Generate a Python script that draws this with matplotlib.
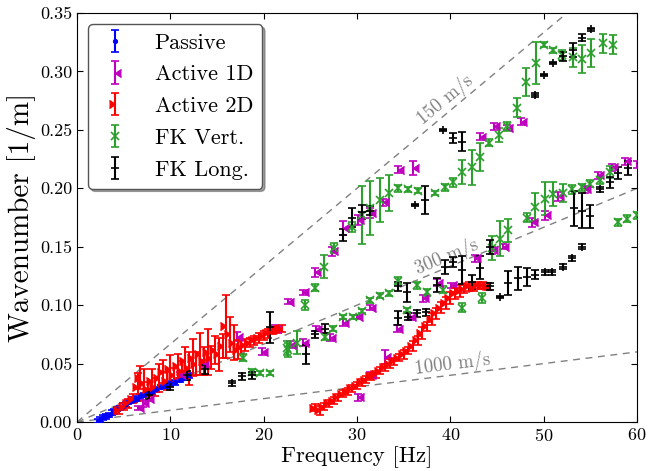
import numpy as np
import matplotlib
matplotlib.use("Agg")
import matplotlib.pyplot as plt

plt.rcParams['font.family'] = 'serif'
plt.rcParams['font.serif'] = ['cmr10', 'DejaVu Serif']
plt.rcParams['mathtext.fontset'] = 'cm'
plt.rcParams['axes.formatter.use_mathtext'] = True

# Passive
pas_f = [2.2, 2.5, 2.8, 3.1, 3.4, 3.7, 4.0, 4.3, 4.6, 4.9, 5.2, 5.5, 5.8, 6.1, 6.4,
         6.8, 7.2, 7.6, 8.0, 8.5, 9.0, 9.5, 10.0, 10.5, 11.0, 11.5, 12.0]
pas_k = [0.001, 0.002, 0.004, 0.005, 0.006, 0.008, 0.009, 0.011, 0.012, 0.014, 0.015,
         0.017, 0.018, 0.019, 0.020, 0.022, 0.023, 0.025, 0.026, 0.028, 0.030, 0.031,
         0.033, 0.034, 0.036, 0.038, 0.040]
pas_e = [0.002] * len(pas_f)

# Active 1D
a1_f = [6.5, 7.1, 7.6, 11.0, 13.5, 17.1, 19.8, 21.2, 22.6, 22.8, 24.2, 24.2, 25.5, 25.6,
        27.1, 27.3, 28.5, 28.5, 30.0, 30.1, 30.1, 31.4, 31.4, 31.4, 32.8, 33.0, 34.3,
        34.4, 35.7, 36.0, 37.1, 38.6, 40.1, 42.6, 43.2, 44.5, 44.7, 45.6, 46.1, 47.6,
        48.7, 50.1, 51.5, 54.4, 55.8, 57.3, 58.7, 60.0]
a1_k = [0.012, 0.016, 0.020, 0.040, 0.050, 0.073, 0.060, 0.080, 0.103, 0.066, 0.111,
        0.068, 0.128, 0.080, 0.072, 0.146, 0.166, 0.085, 0.090, 0.173, 0.021, 0.179,
        0.098, 0.040, 0.188, 0.056, 0.080, 0.216, 0.090, 0.217, 0.106, 0.119, 0.117,
        0.140, 0.244, 0.147, 0.253, 0.150, 0.252, 0.257, 0.171, 0.177, 0.193, 0.199,
        0.211, 0.218, 0.223, 0.220]
a1_e = [0.002, 0.003, 0.002, 0.003, 0.003, 0.004, 0.003, 0.003, 0.002, 0.003, 0.002,
        0.003, 0.004, 0.002, 0.003, 0.004, 0.006, 0.003, 0.002, 0.004, 0.003, 0.004,
        0.002, 0.003, 0.003, 0.006, 0.003, 0.003, 0.003, 0.006, 0.003, 0.003, 0.002,
        0.003, 0.003, 0.003, 0.003, 0.002, 0.002, 0.003, 0.004, 0.004, 0.004, 0.003,
        0.003, 0.003, 0.003, 0.003]

# Active 2D
a2_f = [4.5, 5.0, 5.5, 6.0, 6.5, 6.8, 7.2, 7.6, 8.0, 8.4, 8.8, 9.2, 9.6, 10.0, 10.4,
        10.8, 11.2, 11.6, 12.0, 12.4, 12.8, 13.2, 13.6, 14.0, 14.4, 14.8, 15.2, 15.6,
        16.0, 16.4, 16.8, 17.2, 17.6, 18.0, 18.5, 19.0, 19.5, 20.0, 20.5, 21.0, 21.5, 22.0,
        25.5, 26.0, 26.5, 27.0, 27.5, 28.0, 28.5, 29.0, 29.5, 30.0, 30.5, 31.0, 31.5,
        32.0, 32.5, 33.0, 33.5, 34.0, 34.5, 35.0, 35.5, 36.0, 36.5, 37.0, 37.5, 38.0,
        38.5, 39.0, 39.5, 40.0, 40.5, 41.0, 41.5, 42.0, 42.5, 43.0, 43.5, 44.0]
a2_k = [0.010, 0.013, 0.016, 0.020, 0.030, 0.038, 0.033, 0.028, 0.035, 0.030, 0.038,
        0.043, 0.035, 0.045, 0.040, 0.048, 0.044, 0.052, 0.046, 0.055, 0.050, 0.058,
        0.052, 0.060, 0.055, 0.062, 0.058, 0.065, 0.082, 0.075, 0.068, 0.062, 0.064,
        0.066, 0.068, 0.070, 0.072, 0.074, 0.076, 0.078, 0.079, 0.080,
        0.012, 0.010, 0.013, 0.016, 0.018, 0.021, 0.024, 0.026, 0.029, 0.031, 0.034,
        0.036, 0.039, 0.041, 0.044, 0.047, 0.050, 0.052, 0.055, 0.058, 0.061, 0.065,
        0.070, 0.076, 0.082, 0.088, 0.093, 0.098, 0.102, 0.106, 0.110, 0.112, 0.114,
        0.116, 0.115, 0.117, 0.117, 0.116]
a2_e = [0.003, 0.003, 0.004, 0.004, 0.012, 0.010, 0.012, 0.006, 0.010, 0.008, 0.012,
        0.010, 0.008, 0.012, 0.006, 0.010, 0.008, 0.012, 0.014, 0.016, 0.010, 0.018,
        0.012, 0.020, 0.010, 0.012, 0.014, 0.010, 0.027, 0.015, 0.015, 0.008, 0.006,
        0.005, 0.004, 0.004, 0.004, 0.004, 0.004, 0.003, 0.003, 0.003,
        0.003, 0.004, 0.003, 0.003, 0.003, 0.003, 0.003, 0.003, 0.003, 0.003, 0.003,
        0.003, 0.003, 0.003, 0.003, 0.003, 0.004, 0.003, 0.003, 0.004, 0.003, 0.004,
        0.004, 0.005, 0.004, 0.005, 0.005, 0.005, 0.005, 0.005, 0.005, 0.005, 0.004,
        0.004, 0.003, 0.003, 0.003, 0.003]

# FK Vert.
fv_f = [17.8, 18.7, 19.6, 20.7, 22.5, 22.6, 23.6, 24.4, 25.5, 26.5, 27.5, 29.5, 30.5,
        31.4, 32.5, 33.4, 34.4, 26.6, 27.4, 28.5, 29.6, 30.5, 31.4, 32.5, 33.4, 34.4,
        35.5, 36.5, 38.4, 39.4, 40.3, 41.3, 42.3, 43.2, 44.1, 45.2, 46.1, 47.1, 48.1,
        49.2, 50.0, 51.0, 52.0, 53.1, 54.1, 55.1, 56.4, 57.4,
        35.4, 36.4, 37.5, 39.2, 41.3, 43.4, 44.5, 45.3, 46.2, 48.2, 49.1, 50.1, 51.0,
        52.1, 53.0, 54.1, 55.0, 56.0, 57.1, 58.0, 58.9, 60.0]
fv_k = [0.055, 0.043, 0.042, 0.042, 0.063, 0.062, 0.068, 0.100, 0.115, 0.133, 0.149,
        0.167, 0.177, 0.183, 0.190, 0.196, 0.200, 0.073, 0.080, 0.090, 0.090, 0.095,
        0.104, 0.108, 0.110, 0.121, 0.199, 0.198, 0.196, 0.201, 0.205, 0.214, 0.218,
        0.227, 0.239, 0.246, 0.253, 0.269, 0.291, 0.307, 0.323, 0.318, 0.314, 0.312,
        0.311, 0.316, 0.324, 0.323,
        0.096, 0.117, 0.111, 0.113, 0.098, 0.106, 0.149, 0.157, 0.164, 0.175, 0.184,
        0.191, 0.195, 0.196, 0.199, 0.201, 0.204, 0.207, 0.214, 0.171, 0.174, 0.177]
fv_e = [0.003, 0.002, 0.002, 0.002, 0.006, 0.006, 0.010, 0.004, 0.003, 0.010, 0.004,
        0.004, 0.025, 0.023, 0.019, 0.015, 0.003, 0.003, 0.002, 0.002, 0.002, 0.002,
        0.002, 0.002, 0.002, 0.003, 0.002, 0.002, 0.002, 0.003, 0.004, 0.010, 0.015,
        0.012, 0.003, 0.006, 0.004, 0.008, 0.012, 0.018, 0.002, 0.002, 0.004, 0.008,
        0.012, 0.012, 0.008, 0.008,
        0.002, 0.003, 0.003, 0.003, 0.004, 0.004, 0.010, 0.015, 0.010, 0.004, 0.012,
        0.014, 0.010, 0.008, 0.004, 0.003, 0.003, 0.003, 0.005, 0.003, 0.003, 0.003]

# FK Long.
fl_f = [7.7, 10.0, 11.8, 13.7, 16.6, 17.7, 18.8, 20.7, 24.5, 25.5, 26.6, 28.5, 29.5,
        30.5, 31.4, 34.4, 34.4, 35.5, 36.4, 37.4, 35.4, 36.2, 37.3, 38.6, 39.4, 40.3,
        41.3, 42.3, 43.2, 44.3, 44.3, 45.3, 46.2, 47.3, 48.2, 49.1, 50.1, 50.9, 52.1,
        53.0, 54.1, 55.0, 56.0, 57.1, 58.0, 59.0, 53.2, 54.1, 39.2, 40.3, 41.3, 49.1,
        50.0, 51.0, 52.1, 53.1, 54.1, 55.1]
fl_k = [0.023, 0.030, 0.040, 0.045, 0.033, 0.039, 0.040, 0.081, 0.058, 0.075, 0.080,
        0.160, 0.175, 0.180, 0.181, 0.116, 0.089, 0.090, 0.093, 0.094, 0.111, 0.186,
        0.190, 0.117, 0.133, 0.137, 0.130, 0.120, 0.132, 0.150, 0.116, 0.107, 0.119,
        0.123, 0.124, 0.126, 0.128, 0.128, 0.133, 0.140, 0.150, 0.176, 0.199, 0.205,
        0.213, 0.217, 0.183, 0.181, 0.250, 0.243, 0.240, 0.280, 0.297, 0.307, 0.313,
        0.318, 0.329, 0.336]
fl_e = [0.003, 0.003, 0.004, 0.004, 0.002, 0.003, 0.003, 0.013, 0.008, 0.003, 0.004,
        0.005, 0.008, 0.006, 0.004, 0.004, 0.006, 0.003, 0.003, 0.003, 0.008, 0.001,
        0.012, 0.006, 0.006, 0.004, 0.012, 0.006, 0.010, 0.006, 0.003, 0.001, 0.010,
        0.010, 0.008, 0.004, 0.002, 0.002, 0.002, 0.002, 0.002, 0.010, 0.002, 0.005,
        0.005, 0.006, 0.015, 0.015, 0.001, 0.004, 0.008, 0.002, 0.001, 0.001, 0.004,
        0.006, 0.003, 0.001]

velocities = [150, 300, 1000]
vel_labels = ['150 m/s', '300 m/s', '1000 m/s']
label_pos = [(39.4, 0.276), (39.6, 0.141), (40.2, 0.049)]

fig = plt.figure(figsize=(6.49, 4.71), dpi=100)
ax = fig.add_axes([0.1186, 0.104, 0.8629, 0.8683])

fgrid = np.array([0, 60])
for v, lab, (tx, ty) in zip(velocities, vel_labels, label_pos):
    ax.plot(fgrid, fgrid / v, '--', color='gray', lw=1.0, dashes=(5, 4), zorder=1)
    ang = np.degrees(np.arctan2(1.0 / v, 1.0))
    ax.text(tx, ty, lab, color='gray', fontsize=13.5, rotation=ang,
            transform_rotates_text=True, rotation_mode='anchor',
            ha='center', va='center')

kw = dict(ls='none', capsize=3, elinewidth=1.5, capthick=1.2, ms=5.5, zorder=3)
ax.errorbar(pas_f, pas_k, yerr=pas_e, color='b', marker='.', label='Passive', **kw)
ax.errorbar(a1_f, a1_k, yerr=a1_e, color='m', marker=4, label='Active 1D', **kw)
ax.errorbar(a2_f, a2_k, yerr=a2_e, color='r', marker=5, label='Active 2D', **kw)
ax.errorbar(fv_f, fv_k, yerr=fv_e, color='#2ca02c', marker='x', mew=1.2,
            label='FK Vert.', **kw)
ax.errorbar(fl_f, fl_k, yerr=fl_e, color='k', marker='+', mew=1.2,
            label='FK Long.', **kw)

ax.set_xlim(0, 60)
ax.set_ylim(0, 0.35)
ax.set_xticks(np.arange(0, 61, 10))
ax.set_yticks(np.arange(0, 0.351, 0.05))
ax.yaxis.set_major_formatter(matplotlib.ticker.FormatStrFormatter('%.2f'))
ax.tick_params(direction='in', top=True, right=True, labelsize=13, length=4)
ax.set_xlabel('Frequency [Hz]', fontsize=16.5, labelpad=2)
ax.set_ylabel('Wavenumber [1/m]', fontsize=21, labelpad=3)

leg = ax.legend(loc='upper left', fontsize=16, numpoints=1, fancybox=True,
                shadow=True, labelspacing=0.55, handlelength=1.6,
                handletextpad=1.0, borderaxespad=0.5, framealpha=1)
leg.get_frame().set_edgecolor('#555555')

fig.savefig('out.png', dpi=100)
